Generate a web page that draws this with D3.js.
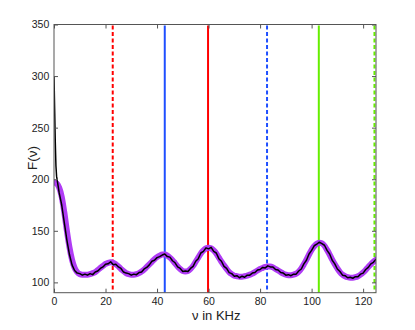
<!DOCTYPE html>
<html>
<head>
<meta charset="utf-8">
<script src="https://cdn.jsdelivr.net/npm/d3@7"></script>
<style>
  body { margin: 0; background: #fff; }
  text { font-family: "Liberation Sans", Arial, sans-serif; fill: #222; }
</style>
</head>
<body>
<svg id="chart" width="415" height="330"></svg>
<script>
// smooth fit, one value per KHz from 0 to 125
const fitValues = [
  197, 196, 192, 183, 168, 150, 134, 122, 114, 110,
  108, 107.5, 107.5, 107.5, 108, 109, 110, 112, 114, 116,
  118, 119, 119.5, 119, 117.5, 115.5, 113, 111, 109, 108,
  107.5, 107.5, 108, 109, 110.5, 112.5, 115, 117.5, 120, 122.5,
  124.5, 126, 127, 127, 126, 124, 121.5, 118.5, 115.5, 113,
  111, 110.5, 111, 113, 116, 120, 124, 128, 131, 133,
  133.5, 133, 131, 128, 124, 120, 116.5, 113, 110, 108,
  106.5, 106, 105.5, 105.5, 106, 106.5, 107.5, 108.5, 110, 111.5,
  113, 114, 115, 115.5, 115.5, 114.5, 113, 111.5, 110, 108.5,
  107.5, 107, 107, 107.5, 108.5, 110.5, 113.5, 117.5, 122, 127,
  131.5, 135, 137.5, 138.5, 138, 135.5, 131.5, 127, 122, 117.5,
  113.5, 110, 107.5, 106, 105, 104.5, 104.5, 105, 106, 107.5,
  109.5, 112, 115, 117.5, 120, 122
];

// measured spectrum: steep head, then one value per KHz from 3 to 125
const measuredHead = [
  [0, 300], [0.25, 268], [0.5, 236], [0.75, 213], [1, 203], [1.5, 195], [2, 187]
];
const measuredValues = [
  175, 158, 141, 127, 117, 111.5, 109,
  108.5, 107, 108, 107, 108.5, 107.5, 110, 111, 113.5, 115,
  117.5, 118, 120, 117, 117.5, 115, 113.5, 110, 109, 108.5,
  107, 108, 107.5, 109.5, 110, 113, 114.5, 117, 120.5, 121.5,
  124, 125, 126.5, 127.5, 125, 124.5, 121, 119, 115, 113.5,
  110.5, 111, 110.5, 113.5, 115.5, 120.5, 123, 128.5, 130, 133.5,
  132.5, 134, 130, 128.5, 123, 120.5, 115.5, 113.5, 109.5, 108.5,
  106, 106.5, 104.5, 106, 105, 107, 107, 109, 109.5, 112,
  112.5, 114.5, 114, 116, 115, 115, 112.5, 112, 109.5, 109,
  107, 107.5, 106.5, 108, 108, 111, 113, 118, 121.5, 127.5,
  131, 135.5, 137, 139, 137.5, 136, 131, 127.5, 121.5, 118,
  113, 110.5, 107, 106.5, 104.5, 105, 104, 105.5, 105.5, 108,
  109, 112.5, 114.5, 118, 119.5, 122.5
];

// marker frequencies (KHz)
const markerFreqs = [22.8, 43, 59.8, 82.7, 102.8, 124.4];
const markerColors = ['#ff0000', '#1f4fff', '#ff0000', '#1f4fff', '#66ee00', '#66ee00'];
const markerDashed = [true, false, false, true, false, true];

const xTicks = [0, 20, 40, 60, 80, 100, 120];
const yTicks = [100, 150, 200, 250, 300, 350];

const margin = {left: 54, right: 39, top: 24.5, bottom: 37.3};
const width = 415 - margin.left - margin.right;
const height = 330 - margin.top - margin.bottom;

const svg = d3.select('#chart');
const g = svg.append('g')
  .attr('transform', `translate(${margin.left},${margin.top})`);

const x = d3.scaleLinear().domain([0, 125]).range([0, width]);
const y = d3.scaleLinear().domain([90, 350]).range([height, 0]);

const fitData = fitValues.map((v, i) => [i, v]);
const measuredData = measuredHead.concat(measuredValues.map((v, i) => [i + 3, v]));

const line = d3.line()
  .x(d => x(d[0]))
  .y(d => y(d[1]))
  .curve(d3.curveMonotoneX);

g.append('defs').append('clipPath')
  .attr('id', 'plotClip')
  .append('rect')
  .attr('width', width)
  .attr('height', height);

const plot = g.append('g').attr('clip-path', 'url(#plotClip)');

plot.selectAll('line.marker')
  .data(markerFreqs)
  .enter().append('line')
  .attr('class', 'marker')
  .attr('x1', d => x(d))
  .attr('x2', d => x(d))
  .attr('y1', 1)
  .attr('y2', height)
  .attr('stroke', (d, i) => markerColors[i])
  .attr('stroke-width', 2)
  .attr('stroke-dasharray', (d, i) => markerDashed[i] ? '4,2.5' : null);

plot.append('path')
  .datum(fitData)
  .attr('d', line)
  .attr('fill', 'none')
  .attr('stroke', '#b03cf5')
  .attr('stroke-width', 6)
  .attr('stroke-linejoin', 'round')
  .attr('stroke-linecap', 'round');

plot.append('path')
  .datum(measuredData)
  .attr('d', d3.line().x(d => x(d[0])).y(d => y(d[1])))
  .attr('fill', 'none')
  .attr('stroke', '#000')
  .attr('stroke-width', 1.5)
  .attr('stroke-linejoin', 'round');

// box axes with inward ticks on all sides
const axisColor = '#555';
const styleAxis = (sel) => {
  sel.select('.domain').remove();
  sel.selectAll('.tick line').attr('stroke', axisColor);
  sel.selectAll('.tick text')
    .attr('font-size', 10.5)
    .attr('fill', '#222')
    .attr('font-family', '"Liberation Sans", Arial, sans-serif');
};

g.append('g')
  .attr('transform', `translate(0,${height})`)
  .call(d3.axisBottom(x).tickValues(xTicks).tickSizeInner(-4).tickSizeOuter(0).tickPadding(4.6))
  .call(styleAxis);

g.append('g')
  .call(d3.axisTop(x).tickValues(xTicks).tickSizeInner(-4).tickSizeOuter(0).tickFormat(''))
  .call(styleAxis);

g.append('g')
  .call(d3.axisLeft(y).tickValues(yTicks).tickSizeInner(-4).tickSizeOuter(0).tickPadding(4.7))
  .call(styleAxis);

g.append('g')
  .attr('transform', `translate(${width},0)`)
  .call(d3.axisRight(y).tickValues(yTicks).tickSizeInner(-4).tickSizeOuter(0).tickFormat(''))
  .call(styleAxis);

g.append('rect')
  .attr('width', width)
  .attr('height', height)
  .attr('fill', 'none')
  .attr('stroke', axisColor)
  .attr('stroke-width', 1);

svg.append('text')
  .attr('x', margin.left + x(63))
  .attr('y', 319.5)
  .attr('text-anchor', 'middle')
  .attr('font-size', 13)
  .text('ν in KHz');

svg.append('text')
  .attr('transform', `translate(37,${margin.top + height / 2 - 0.5}) rotate(-90)`)
  .attr('text-anchor', 'middle')
  .attr('font-size', 13.5)
  .text('F(ν)');
</script>
</body>
</html>
